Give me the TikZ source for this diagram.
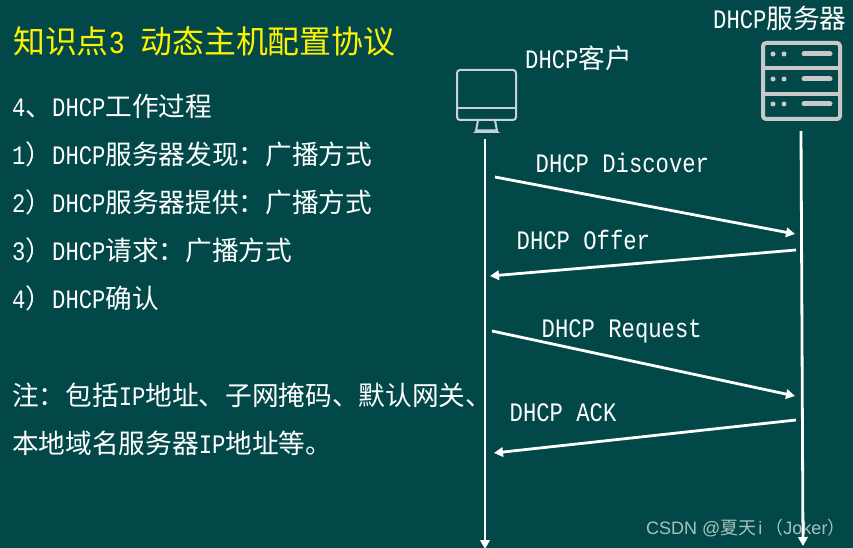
\documentclass[tikz,border=0pt]{standalone}
\usepackage{fontspec}
\usetikzlibrary{arrows.meta}
\setmainfont[FakeStretch=0.833]{Liberation Mono}
\newfontfamily\zhfont{Noto Sans CJK SC}
\newfontfamily\wmfont{Liberation Sans}
\newcommand\Zh[1]{{\zhfont #1}}
\definecolor{bgc}{HTML}{034848}
\definecolor{pcc}{HTML}{C8D0E8}
\definecolor{svc}{HTML}{C8C8C8}
\definecolor{wmc}{HTML}{A8C0C0}
\tikzset{
  x=1pt,y=-1pt,
  body/.style={anchor=base west,inner sep=0pt,text=white,font=\fontsize{26.67}{30}\selectfont},
  titletext/.style={anchor=base west,inner sep=0pt,text=yellow,font=\fontsize{31.85}{36}\selectfont},
  wmark/.style={anchor=base west,inner sep=0pt,text=wmc,font=\wmfont\fontsize{18}{20}\selectfont},
  msg/.style={draw=white,line width=2.8pt,-{Triangle[length=9pt,width=9.5pt]}},
  pcline/.style={draw=pcc,line width=2pt,rounded corners=3pt},
  svline/.style={draw=svc,line width=4pt,rounded corners=3pt,line join=round},
  svbar/.style={draw=svc,line width=5pt,line cap=round},
  svdot/.style={fill=svc,circle,inner sep=0pt,minimum size=5pt},
}
\begin{document}
\begin{tikzpicture}
\fill[bgc] (0,0) rectangle (853,548);
\useasboundingbox (0,0) rectangle (853,548);
% watermark
\node[wmark] (wm) at (646,534) {CSDN @\Zh{夏天}\kern2pt i\kern3pt\Zh{（}Joker\Zh{）}};
% left texts
\node[titletext] (title) at (13,54) {\Zh{知识点}3 \Zh{动态主机配置协议}};
\node[body] (t1) at (12,116.6) {4\Zh{、}DHCP\Zh{工作过程}};
\node[body] (t2) at (12,164.6) {1\Zh{）}DHCP\Zh{服务器发现：广播方式}};
\node[body] (t3) at (12,212.4) {2\Zh{）}DHCP\Zh{服务器提供：广播方式}};
\node[body] (t4) at (12,260.6) {3\Zh{）}DHCP\Zh{请求：广播方式}};
\node[body] (t5) at (12,308.4) {4\Zh{）}DHCP\Zh{确认}};
\node[body] (t6) at (12,405.6) {\Zh{注：包括}IP\Zh{地址、子网掩码、默认网关、}};
\node[body] (t7) at (12,453.4) {\Zh{本地域名服务器}IP\Zh{地址等。}};
% headings
\node[body] (cl) at (525,69) {DHCP\Zh{客户}};
\node[body] (sv) at (713,29) {DHCP\Zh{服务器}};
% computer icon
\draw[pcline] (457,70) rectangle (516,120);
\draw[pcc,line width=2pt] (457,108) -- (516,108);
\draw[pcc,line width=2pt] (478,120) -- (476,131) (495,120) -- (497,131);
\fill[pcc] (473,133) -- (477,129.5) -- (496,129.5) -- (500,133) -- cycle;
% server icon
\draw[svline] (763,43) rectangle (840,119);
\draw[svc,line width=4pt] (763,68.5) -- (840,68.5) (763,94) -- (840,94);
\foreach \yy/\nm in {54/a,79/b,104/c}{
  \node[svdot] (d1\nm) at (773,\yy) {};
  \node[svdot] (d2\nm) at (784,\yy) {};
  \draw[svbar] (804,\yy) -- (830,\yy);
}
% lifelines
\coordinate (ctop) at (485,139);
\coordinate (cbot) at (485,549);
\coordinate (stop) at (801,131);
\coordinate (sbot) at (803,546);
\draw[msg] (ctop) -- (cbot);
\draw[msg] (stop) -- (sbot);
% messages
\coordinate (m1a) at (495,177); \coordinate (m1b) at (795,234);
\coordinate (m2a) at (796,250); \coordinate (m2b) at (490,276);
\coordinate (m3a) at (492,331); \coordinate (m3b) at (795,396);
\coordinate (m4a) at (796,420); \coordinate (m4b) at (494,453);
\draw[msg] (m1a) -- (m1b);
\draw[msg] (m2a) -- (m2b);
\draw[msg] (m3a) -- (m3b);
\draw[msg] (m4a) -- (m4b);
\node[body] (l1) at (535.5,172) {DHCP Discover};
\node[body] (l2) at (516.5,249.6) {DHCP Offer};
\node[body] (l3) at (541.5,337) {DHCP Request};
\node[body] (l4) at (509.5,421.6) {DHCP ACK};
\end{tikzpicture}
\end{document}
